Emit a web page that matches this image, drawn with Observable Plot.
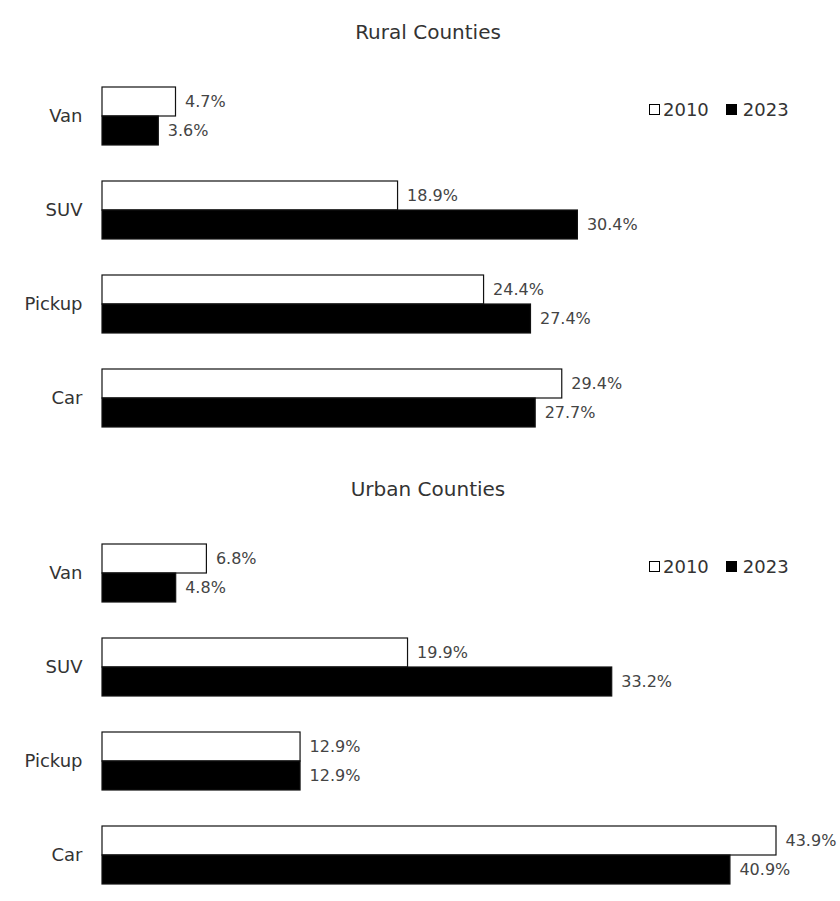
<!DOCTYPE html>
<html>
<head>
<meta charset="utf-8">
<script src="https://cdn.jsdelivr.net/npm/d3@7"></script>
<script src="https://cdn.jsdelivr.net/npm/@observablehq/plot@0.6"></script>
<style>
  body { margin: 0; background: #fff; font-family: "DejaVu Sans", sans-serif; }
  #wrap { position: relative; width: 840px; height: 901px; overflow: hidden; }
  .panel { position: absolute; left: 0; width: 840px; }
  .title { position: absolute; left: 0; width: 856px; text-align: center; font-size: 20px; color: #333; }
  .legend { position: absolute; left: 649px; font-size: 18px; color: #333; display: flex; align-items: center; }
  .sw { display: inline-block; width: 9px; height: 9px; border: 1.2px solid #000; margin-right: 3px; }
</style>
</head>
<body>
<div id="wrap"></div>
<script>
const categories = ["Van", "SUV", "Pickup", "Car"];
const years = ["2010", "2023"];
const rural2010 = [4.7, 18.9, 24.4, 29.4];
const rural2023 = [3.6, 30.4, 27.4, 27.7];
const urban2010 = [6.8, 19.9, 12.9, 43.9];
const urban2023 = [4.8, 33.2, 12.9, 40.9];
const panelTitles = ["Rural Counties", "Urban Counties"];

function rows(v2010, v2023) {
  const out = [];
  categories.forEach((c, i) => {
    out.push({cat: c, year: years[0], value: v2010[i]});
    out.push({cat: c, year: years[1], value: v2023[i]});
  });
  return out;
}

function makePanel(data, xmax, height, marginBottom) {
  return Plot.plot({
    width: 840,
    height,
    marginLeft: 102,
    marginRight: 64,
    marginTop: 87,
    marginBottom,
    style: {fontFamily: "DejaVu Sans, sans-serif", fontSize: "18px", color: "#333", background: "transparent"},
    x: {domain: [0, xmax], axis: null},
    y: {domain: years, axis: null, paddingInner: 0, paddingOuter: 0},
    fy: {domain: categories, paddingInner: 0.383, paddingOuter: 0, axis: "left", label: null, tickSize: 0, tickPadding: 20},
    color: {domain: years, range: ["#ffffff", "#000000"]},
    marks: [
      Plot.barX(data, {fy: "cat", y: "year", x: "value", fill: "year", stroke: "#111", strokeWidth: 1.2}),
      Plot.text(data, {fy: "cat", y: "year", x: "value", text: d => d.value.toFixed(1) + "%",
        dx: 9, textAnchor: "start", fontSize: 16, fill: "#444"})
    ]
  });
}

const wrap = document.getElementById("wrap");
const panels = [
  {data: rows(rural2010, rural2023), xmax: 43.1, top: 0, height: 457, mb: 30},
  {data: rows(urban2010, urban2023), xmax: 43.9, top: 457, height: 444, mb: 17}
];
panels.forEach((p, i) => {
  const div = document.createElement("div");
  div.className = "panel";
  div.style.top = p.top + "px";
  div.appendChild(makePanel(p.data, p.xmax, p.height, p.mb));
  wrap.appendChild(div);

  const t = document.createElement("div");
  t.className = "title";
  t.textContent = panelTitles[i];
  t.style.top = (p.top + 20) + "px";
  wrap.appendChild(t);

  const lg = document.createElement("div");
  lg.className = "legend";
  lg.style.top = (p.top + 99) + "px";
  lg.innerHTML = `<span class="sw" style="background:#fff"></span><span>${years[0]}</span>` +
    `<span class="sw" style="background:#000;margin-left:17px;margin-right:6px"></span><span>${years[1]}</span>`;
  wrap.appendChild(lg);
});
</script>
</body>
</html>
